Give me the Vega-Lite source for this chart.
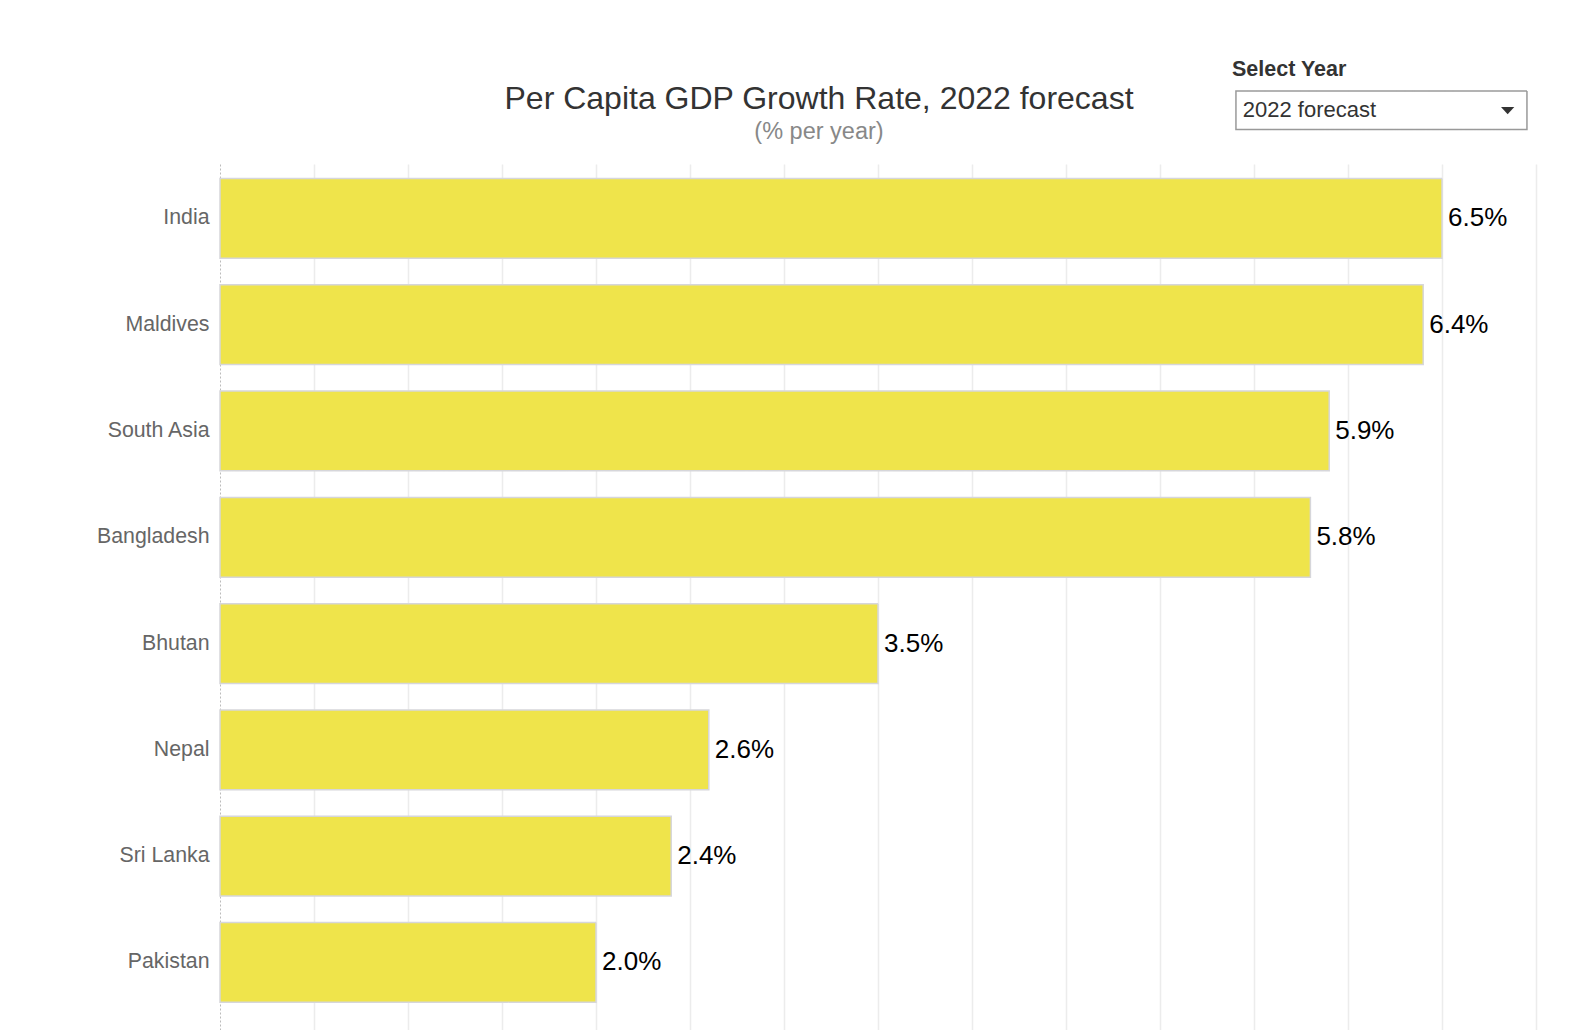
{
  "$schema": "https://vega.github.io/schema/vega-lite/v6.json",
  "width": 1316,
  "height": 866,
  "autosize": {"type": "none"},
  "padding": {"left": 220, "top": 164, "right": 56, "bottom": 0},
  "background": "white",
  "config": {"font": "Liberation Sans", "view": {"stroke": null}},
  "title": {
    "text": "Per Capita GDP Growth Rate, 2022 forecast",
    "subtitle": "(% per year)",
    "anchor": "middle",
    "dx": -59,
    "fontSize": 32,
    "fontWeight": "normal",
    "color": "#333333",
    "subtitleFontSize": 23.5,
    "subtitleColor": "#888888",
    "subtitlePadding": 4,
    "offset": -180.75
  },
  "data": {
    "values": [
      {"country": "India", "growth": 0.065, "year": "2022 forecast"},
      {"country": "Maldives", "growth": 0.064, "year": "2022 forecast"},
      {"country": "South Asia", "growth": 0.059, "year": "2022 forecast"},
      {"country": "Bangladesh", "growth": 0.058, "year": "2022 forecast"},
      {"country": "Bhutan", "growth": 0.035, "year": "2022 forecast"},
      {"country": "Nepal", "growth": 0.026, "year": "2022 forecast"},
      {"country": "Sri Lanka", "growth": 0.024, "year": "2022 forecast"},
      {"country": "Pakistan", "growth": 0.020, "year": "2022 forecast"}
    ]
  },
  "encoding": {
    "y": {
      "field": "country",
      "type": "nominal",
      "sort": null,
      "scale": {"paddingInner": 0.25, "paddingOuter": 0.1985, "align": 0.344},
      "axis": {
        "title": null,
        "labelFontSize": 21.3,
        "labelColor": "#666666",
        "labelPadding": 11,
        "ticks": false,
        "domain": true,
        "domainDash": [2, 2],
        "domainColor": "#bbbbbb",
        "domainWidth": 1,
        "grid": false
      }
    },
    "x": {
      "field": "growth",
      "type": "quantitative",
      "scale": {"domain": [0, 0.07], "nice": false},
      "axis": {
        "title": null,
        "labels": false,
        "ticks": false,
        "domain": false,
        "grid": true,
        "gridColor": "#ececec",
        "gridWidth": 1.5,
        "values": [0.005, 0.01, 0.015, 0.02, 0.025, 0.03, 0.035, 0.04, 0.045, 0.05, 0.055, 0.06, 0.065, 0.07]
      }
    }
  },
  "layer": [
    {
      "mark": {"type": "bar", "strokeWidth": 1.5},
      "encoding": {
        "color": {
          "field": "year",
          "type": "nominal",
          "scale": {"range": ["#EFE44B"]},
          "legend": null
        },
        "stroke": {
          "field": "year",
          "type": "nominal",
          "scale": {"range": ["#d6d6da"]},
          "legend": null
        },
        "strokeDash": {
          "field": "year",
          "type": "nominal",
          "scale": {"domain": ["2022 forecast"], "range": [[1, 0]]},
          "legend": {
            "orient": "none",
            "legendX": 1012,
            "legendY": -200.25,
            "padding": 0,
            "title": null,
            "symbolType": "M-1,-0.1326L1,-0.1326L1,0.1326L-1,0.1326Z",
            "symbolSize": 84681,
            "symbolStrokeWidth": 1.5,
            "symbolFillColor": "#ffffff",
            "symbolStrokeColor": "#999999",
            "symbolOffset": 2.95,
            "labelOffset": -285.15,
            "labelFontSize": 22,
            "labelColor": "#333333",
            "labelLimit": 300
          }
        }
      }
    },
    {
      "mark": {"type": "text", "align": "left", "baseline": "middle", "dx": 6, "fontSize": 26},
      "encoding": {
        "text": {"field": "growth", "type": "quantitative", "format": ".1%"},
        "color": {
          "field": "year",
          "type": "nominal",
          "scale": {"range": ["#000000"]},
          "legend": {
            "orient": "none",
            "legendX": 1012,
            "legendY": -105,
            "padding": 0,
            "title": "Select Year",
            "titleFontSize": 21.5,
            "titleFontWeight": "bold",
            "titleColor": "#333333",
            "titleAnchor": "start",
            "titlePadding": 23.15,
            "symbolType": "M-1,-0.55L1,-0.55L0,0.55Z",
            "symbolSize": 177,
            "symbolStrokeWidth": 0,
            "symbolOpacity": 0.8,
            "symbolOffset": 268.65,
            "labelExpr": "''",
            "labelFontSize": 1
          }
        }
      }
    }
  ],
  "resolve": {"scale": {"color": "independent"}, "legend": {"color": "independent"}}
}
